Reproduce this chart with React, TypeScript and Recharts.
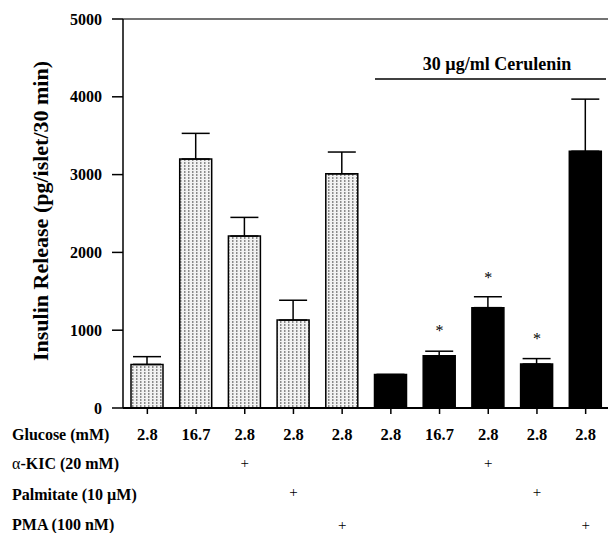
import {
  ComposedChart,
  Bar,
  Cell,
  ErrorBar,
  Scatter,
  XAxis,
  YAxis,
  ReferenceLine,
} from "recharts";

const conditions = ["c1", "c2", "c3", "c4", "c5", "c6", "c7", "c8", "c9", "c10"];
const glucose = ["2.8", "16.7", "2.8", "2.8", "2.8", "2.8", "16.7", "2.8", "2.8", "2.8"];
const kic = [0, 0, 1, 0, 0, 0, 0, 1, 0, 0];
const palmitate = [0, 0, 0, 1, 0, 0, 0, 0, 1, 0];
const pma = [0, 0, 0, 0, 1, 0, 0, 0, 0, 1];
const insulin = [560, 3200, 2210, 1130, 3010, 430, 670, 1290, 565, 3300];
const sem = [100, 330, 240, 255, 280, 0, 60, 140, 70, 670];
const cerulenin = [0, 0, 0, 0, 0, 1, 1, 1, 1, 1];
const starAt = [null, null, null, null, null, null, 1000, 1680, 890, null];
const yTicks = [0, 1000, 2000, 3000, 4000, 5000];

const rowLabels = ["Glucose (mM)", "-KIC (20 mM)", "Palmitate (10 \u00b5M)", "PMA (100 nM)"];

const data = conditions.map((c, i) => ({
  id: c,
  insulin: insulin[i],
  err: [0, sem[i]],
  star: starAt[i],
}));

const FONT = "'Liberation Serif', 'Times New Roman', serif";

const XTick = (props: any) => {
  const { x, y, index } = props;
  const i = index;
  return (
    <g fontFamily={FONT}>
      <text x={x} y={y + 18} textAnchor="middle" dominantBaseline="central" fontSize={16.5} fontWeight="bold" fill="#000">
        {glucose[i]}
      </text>
      {kic[i] ? (
        <text x={x} y={y + 47} textAnchor="middle" dominantBaseline="central" fontSize={15} fill="#000">+</text>
      ) : null}
      {palmitate[i] ? (
        <text x={x} y={y + 76} textAnchor="middle" dominantBaseline="central" fontSize={15} fill="#000">+</text>
      ) : null}
      {pma[i] ? (
        <text x={x} y={y + 109} textAnchor="middle" dominantBaseline="central" fontSize={15} fill="#000">+</text>
      ) : null}
    </g>
  );
};

const Star = (props: any) => {
  const { cx, cy } = props;
  if (typeof cy !== "number" || isNaN(cy)) return null;
  return (
    <text x={cx} y={cy} textAnchor="middle" dominantBaseline="central" fontSize={16} fontFamily={FONT} fill="#000">
      *
    </text>
  );
};

export default function App() {
  return (
    <div style={{ position: "absolute", left: 0, top: 0, width: 608, height: 533, overflow: "hidden", background: "#fff" }}>
      <ComposedChart
        width={620}
        height={533}
        data={data}
        margin={{ top: 19, right: 10, bottom: 5, left: 0 }}
      >
        <defs>
          <pattern id="speckle" width="4" height="3" patternUnits="userSpaceOnUse">
            <rect width="4" height="3" fill="#f2f2f2" />
            <rect x="0" y="0" width="1.5" height="2" fill="#8a8a8a" />
          </pattern>
        </defs>
        <XAxis
          dataKey="id"
          height={120}
          tickSize={6}
          tickLine={{ stroke: "#000", strokeWidth: 1.5 }}
          axisLine={{ stroke: "#000", strokeWidth: 2 }}
          tick={<XTick />}
          interval={0}
        />
        <YAxis
          domain={[0, 5000]}
          ticks={yTicks}
          width={123}
          tickSize={11}
          tickMargin={10}
          tickLine={{ stroke: "#000", strokeWidth: 1.5 }}
          axisLine={{ stroke: "#000", strokeWidth: 1.5 }}
          tick={{ fontFamily: FONT, fontSize: 16, fontWeight: "bold", fill: "#000" }}
        />
        <ReferenceLine y={5000} stroke="#444" strokeWidth={1.5} />
        <Bar dataKey="insulin" isAnimationActive={false} barSize={32}>
          {data.map((d, i) => (
            <Cell
              key={d.id}
              fill={cerulenin[i] ? "#000" : "url(#speckle)"}
              stroke="#000"
              strokeWidth={1.5}
            />
          ))}
          <ErrorBar dataKey="err" width={14} stroke="#000" strokeWidth={1.5} direction="y" />
        </Bar>
        <Scatter dataKey="star" fill="#000" isAnimationActive={false} shape={<Star />} />
      </ComposedChart>
      <svg
        width={608}
        height={533}
        style={{ position: "absolute", left: 0, top: 0, pointerEvents: "none" }}
        fontFamily={FONT}
      >
        <text
          transform="translate(40 211) rotate(-90)"
          textAnchor="middle"
          dominantBaseline="central"
          fontSize={22}
          fontWeight="bold"
        >
          Insulin Release (pg/islet/30 min)
        </text>
        {rowLabels.map((t, i) => (
          <text key={t} x={12} y={[434, 463, 494, 524][i]} dominantBaseline="central" fontSize={16} fontWeight="bold">
            {i === 1 ? <tspan fontWeight="normal">{"\u03b1"}</tspan> : null}
            {t}
          </text>
        ))}
        <text x={497} y={70} textAnchor="middle" fontSize={18} fontWeight="bold">
          30 {"\u00b5"}g/ml  Cerulenin
        </text>
        <line x1={375} x2={606} y1={79} y2={79} stroke="#000" strokeWidth={1.5} />
      </svg>
    </div>
  );
}
